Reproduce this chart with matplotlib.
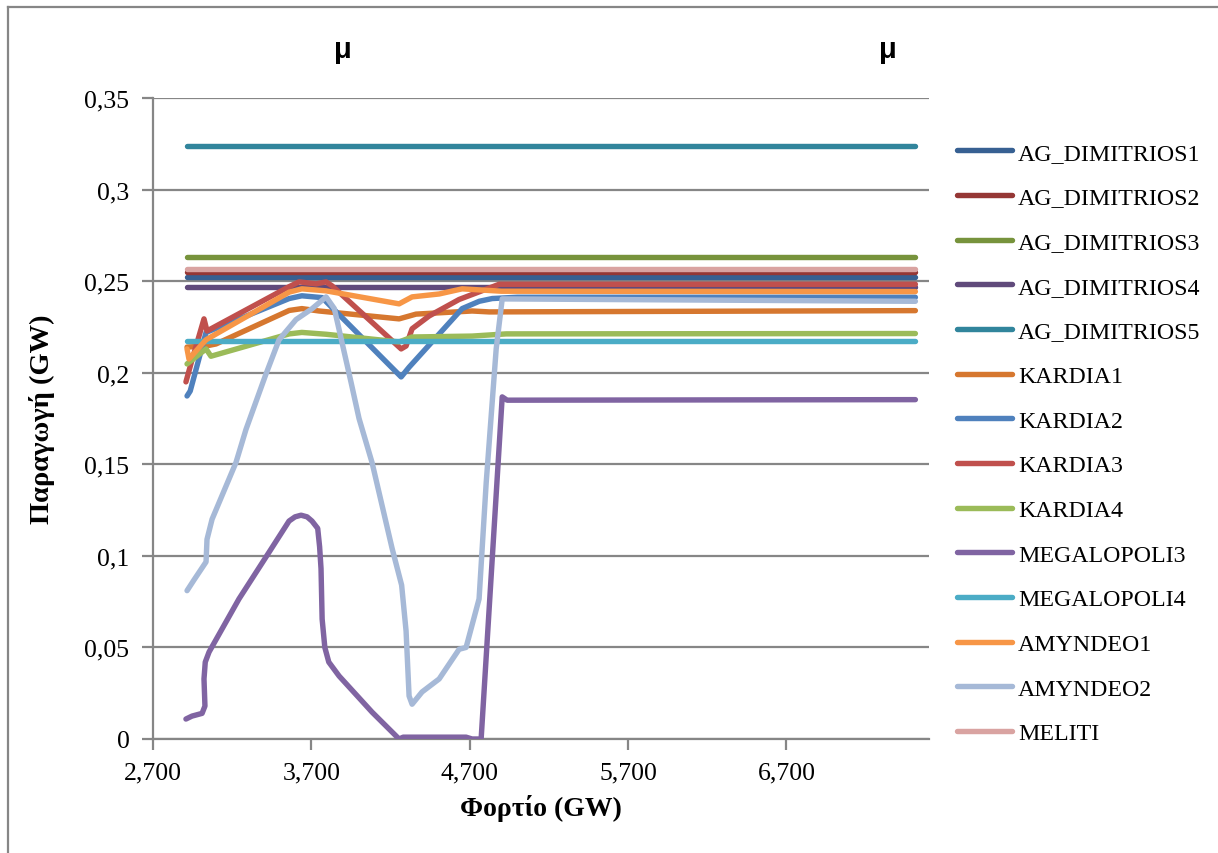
import matplotlib
matplotlib.use("Agg")
import matplotlib.pyplot as plt
from matplotlib.lines import Line2D
from matplotlib.ticker import FixedLocator, FuncFormatter

plt.rcParams['font.family'] = ['Liberation Serif', 'DejaVu Serif']

X_START, X_END = 2915, 7514

names = ["AG_DIMITRIOS1", "AG_DIMITRIOS2", "AG_DIMITRIOS3", "AG_DIMITRIOS4",
         "AG_DIMITRIOS5", "KARDIA1", "KARDIA2", "KARDIA3", "KARDIA4",
         "MEGALOPOLI3", "MEGALOPOLI4", "AMYNDEO1", "AMYNDEO2", "MELITI"]

colors = ["#376092", "#953735", "#77933C", "#604A7B", "#31859C", "#D6772F",
          "#4F81BD", "#C0504D", "#9BBB59", "#8064A2", "#4BACC6", "#F79646",
          "#A6B9D7", "#D9A3A1"]

# Flat units
ag1_x = [X_START, X_END]; ag1_y = [0.2520, 0.2520]
ag2_x = [X_START, X_END]; ag2_y = [0.2551, 0.2551]
ag3_x = [X_START, X_END]; ag3_y = [0.2631, 0.2631]
ag4_x = [X_START, X_END]; ag4_y = [0.2469, 0.2469]
ag5_x = [X_START, X_END]; ag5_y = [0.3236, 0.3236]
meg4_x = [X_START, X_END]; meg4_y = [0.2172, 0.2172]
meliti_x = [X_START, X_END]; meliti_y = [0.2566, 0.2566]

kardia1_x = [2915, 3035, 3098, 3560, 3640, 3749, 4254, 4361, 4715, 4823, 7514]
kardia1_y = [0.2140, 0.2146, 0.2157, 0.2340, 0.2350, 0.2337, 0.2294, 0.2320, 0.2337, 0.2332, 0.2339]

kardia2_x = [2915, 2935, 3035, 3560, 3640, 3768, 4267, 4317, 4652, 4760, 4842, 5000, 7514]
kardia2_y = [0.1873, 0.1900, 0.2220, 0.2405, 0.2420, 0.2410, 0.1977, 0.2030, 0.2350, 0.2390, 0.2405, 0.2412, 0.2412]

kardia3_x = [2908, 2940, 3022, 3041, 3560, 3622, 3730, 3793, 3831, 4267, 4298, 4336, 4444, 4633, 4886, 7514]
kardia3_y = [0.1950, 0.2050, 0.2294, 0.2228, 0.2470, 0.2496, 0.2485, 0.2496, 0.2474, 0.2130, 0.2146, 0.2240, 0.2310, 0.2400, 0.2483, 0.2483]

kardia4_x = [2915, 3035, 3066, 3560, 3640, 3793, 4254, 4336, 4715, 4930, 7514]
kardia4_y = [0.2048, 0.2130, 0.2090, 0.2212, 0.2220, 0.2210, 0.2168, 0.2195, 0.2200, 0.2212, 0.2214]

meg3_x = [2908, 2946, 3010, 3028, 3022, 3030, 3054, 3243, 3433, 3559, 3597, 3635, 3673, 3704, 3740,
          3752, 3761, 3768, 3785, 3810, 3875, 4083, 4254, 4280, 4677, 4715, 4772, 4905, 4936, 7514]
meg3_y = [0.0109, 0.0125, 0.0140, 0.0180, 0.0328, 0.0420, 0.0475, 0.0765, 0.1020, 0.1190, 0.1213,
          0.1222, 0.1213, 0.1190, 0.1150, 0.1050, 0.0930, 0.0655, 0.0500, 0.0420, 0.0344, 0.0147,
          0.0000, 0.0010, 0.0010, 0.0000, 0.0000, 0.1868, 0.1850, 0.1853]

amyndeo1_x = [2915, 2927, 3035, 3560, 3640, 3793, 4254, 4336, 4507, 4652, 4900, 7514]
amyndeo1_y = [0.2130, 0.2075, 0.2180, 0.2440, 0.2458, 0.2447, 0.2376, 0.2414, 0.2430, 0.2458, 0.2445, 0.2443]

amyndeo2_x = [2915, 2960, 3035, 3041, 3073, 3224, 3287, 3410, 3496, 3603, 3705, 3793, 3845,
              3950, 4001, 4083, 4210, 4270, 4298, 4317, 4336, 4399, 4507, 4633, 4677, 4759,
              4804, 4867, 4905, 7514]
amyndeo2_y = [0.0810, 0.0870, 0.0967, 0.1090, 0.1200, 0.1510, 0.1690, 0.1985, 0.2180, 0.2290,
              0.2350, 0.2414, 0.2350, 0.1950, 0.1750, 0.1510, 0.1040, 0.0840, 0.0590, 0.0235,
              0.0190, 0.0257, 0.0328, 0.0490, 0.0500, 0.0765, 0.1400, 0.2130, 0.2403, 0.2390]

series_x = [ag1_x, ag2_x, ag3_x, ag4_x, ag5_x, kardia1_x, kardia2_x, kardia3_x,
            kardia4_x, meg3_x, meg4_x, amyndeo1_x, amyndeo2_x, meliti_x]
series_y = [ag1_y, ag2_y, ag3_y, ag4_y, ag5_y, kardia1_y, kardia2_y, kardia3_y,
            kardia4_y, meg3_y, meg4_y, amyndeo1_y, amyndeo2_y, meliti_y]

x_ticks = [2700, 3700, 4700, 5700, 6700]
y_ticks = [0, 0.05, 0.1, 0.15, 0.2, 0.25, 0.3, 0.35]
y_tick_labels = ["0", "0,05", "0,1", "0,15", "0,2", "0,25", "0,3", "0,35"]

W, H = 1218, 854
fig = plt.figure(figsize=(W / 100, H / 100), dpi=100)
ax = fig.add_axes([153 / W, 1 - 740 / H, (929 - 153) / W, (740 - 99) / H])

grid_col = "#868686"
for yt in y_ticks:
    ax.axhline(yt, color=grid_col, lw=1.6, zorder=1)

handles = []
for nm, c, xs, ys in zip(names, colors, series_x, series_y):
    ln, = ax.plot(xs, ys, color=c, lw=3.9, solid_capstyle='round',
                  solid_joinstyle='round', zorder=3, label=nm)
    handles.append(ln)

ax.set_xlim(2700, 7600)
ax.set_ylim(0, 0.35)
ax.xaxis.set_major_locator(FixedLocator(x_ticks))
ax.xaxis.set_major_formatter(FuncFormatter(lambda v, p: f"{int(v):,}"))
ax.yaxis.set_major_locator(FixedLocator(y_ticks))
ax.set_yticklabels(y_tick_labels)

for s in ["top", "right"]:
    ax.spines[s].set_visible(False)
for s in ["left", "bottom"]:
    ax.spines[s].set_color(grid_col)
    ax.spines[s].set_linewidth(1.6)
ax.tick_params(axis='both', colors=grid_col, length=8, width=1.6, labelsize=18.5,
               labelcolor="black")
ax.tick_params(axis='y', pad=9)
ax.tick_params(axis='x', pad=8)

ax.set_xlabel("Φορτίο (GW)", fontsize=20, fontweight='bold', labelpad=8)
ax.set_ylabel("Παραγωγή (GW)", fontsize=20.5, fontweight='bold', labelpad=21)

fig.text(343 / W, 1 - 50 / H, "μ", fontsize=21, fontweight='bold', ha='center', va='center',
         family=['Liberation Sans', 'DejaVu Sans'])
fig.text(888 / W, 1 - 50 / H, "μ", fontsize=21, fontweight='bold', ha='center', va='center',
         family=['Liberation Sans', 'DejaVu Sans'])

leg = fig.legend(handles=handles, loc='upper left', bbox_to_anchor=(957 / W, 1 - 143 / H),
                 frameon=False, fontsize=17.2, handlelength=2.3, handletextpad=0.25,
                 labelspacing=0.96, borderpad=0, borderaxespad=0)

# outer chart border
fig.add_artist(Line2D([8 / W, 1], [1 - 8 / H, 1 - 8 / H], color="#868686", lw=1.6,
                      transform=fig.transFigure))
fig.add_artist(Line2D([8 / W, 8 / W], [0, 1 - 8 / H], color="#868686", lw=1.6,
                      transform=fig.transFigure))

fig.savefig("out.png", dpi=100)
